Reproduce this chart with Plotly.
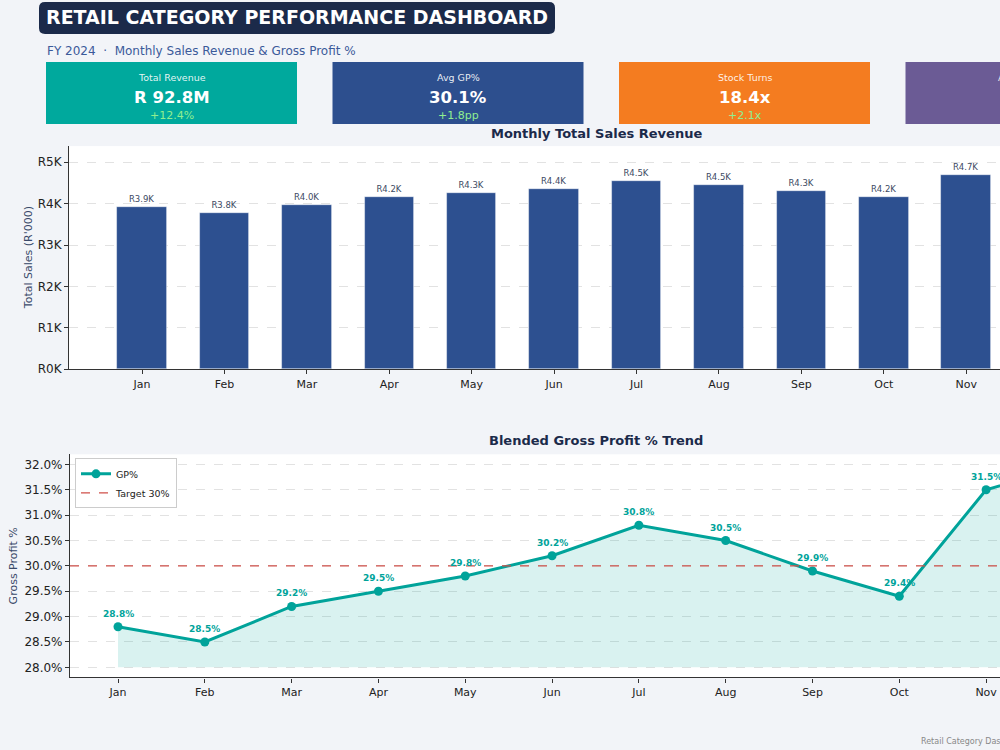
import plotly.graph_objects as go

# ---------------- data ----------------
months = ["Jan", "Feb", "Mar", "Apr", "May", "Jun", "Jul", "Aug", "Sep", "Oct", "Nov", "Dec"]
revenue_k = [3.91, 3.76, 3.96, 4.16, 4.26, 4.36, 4.54, 4.46, 4.31, 4.16, 4.70, 4.90]   # R'000 (K)
gp_pct = [28.8, 28.5, 29.2, 29.5, 29.8, 30.2, 30.8, 30.5, 29.9, 29.4, 31.5, 32.0]
target_gp = 30.0
gp_floor = 28.0

rev_ticks = [0, 1, 2, 3, 4, 5]
rev_ticktext = ["R0K", "R1K", "R2K", "R3K", "R4K", "R5K"]
gp_ticks = [28.0, 28.5, 29.0, 29.5, 30.0, 30.5, 31.0, 31.5, 32.0]
gp_ticktext = [f"{v:.1f}%" for v in gp_ticks]

kpi_labels = ["Total Revenue", "Avg GP%", "Stock Turns", "Avg Txn Value"]
kpi_values = ["R 92.8M", "30.1%", "18.4x", "R 412"]
kpi_deltas = ["+12.4%", "+1.8pp", "+2.1x", "+5.6%"]
kpi_colors = ["#00A99D", "#2D4F8E", "#F47C20", "#6B5B95"]

# ---------------- styling ----------------
FONT = "DejaVu Sans"
BG = "#F2F4F8"
NAVY = "#1B2A4A"
BAR = "#2D5090"
TEAL = "#00A39A"
W, H = 1000, 750
H_EFF = 742.5   # rendered paper height observed in the viewer


def px(x):
    return x / W


def py(y):
    return 1 - y / H_EFF


fig = go.Figure()

# ---- bar chart ----
fig.add_trace(go.Bar(
    x=list(range(len(months))), y=revenue_k, width=0.6,
    marker=dict(color=BAR, line=dict(color="rgba(255,255,255,0.55)", width=0.8)),
    texttemplate="R%{y:.1f}K", textposition="outside",
    textfont=dict(family=FONT, size=8.5, color="#3D4A63"),
    cliponaxis=False, showlegend=False, xaxis="x", yaxis="y",
))

# ---- GP% chart ----
fig.add_trace(go.Scatter(
    x=list(range(len(months))), y=[gp_floor] * len(months), mode="lines",
    line=dict(width=0, color="rgba(0,0,0,0)"), showlegend=False, hoverinfo="skip",
    xaxis="x2", yaxis="y2",
))
fig.add_trace(go.Scatter(
    x=list(range(len(months))), y=gp_pct, mode="lines", fill="tonexty",
    fillcolor="rgba(0,168,157,0.15)", line=dict(width=0, color="rgba(0,0,0,0)"),
    showlegend=False, hoverinfo="skip", xaxis="x2", yaxis="y2",
))
fig.add_trace(go.Scatter(
    x=list(range(len(months))), y=gp_pct, mode="lines+markers", name="GP%",
    line=dict(color=TEAL, width=3), marker=dict(color=TEAL, size=9),
    xaxis="x2", yaxis="y2",
))
fig.add_trace(go.Scatter(
    x=[None], y=[None], mode="lines", name="Target 30%",
    line=dict(color="#D0504A", width=1.2, dash="dash"),
    xaxis="x2", yaxis="y2",
))

annotations = []
for i, v in enumerate(gp_pct):
    annotations.append(dict(
        x=i, y=v, xref="x2", yref="y2", text=f"<b>{v:.1f}%</b>", showarrow=False,
        yshift=13, font=dict(family=FONT, size=9, color=TEAL),
    ))

axis_common = dict(
    showline=True, linecolor="#333333", linewidth=1.2, ticks="outside", ticklen=4,
    tickcolor="#333333", zeroline=False,
)

fig.update_layout(
    width=W, height=H, margin=dict(l=0, r=0, t=0, b=0),
    paper_bgcolor=BG, plot_bgcolor="white",
    font=dict(family=FONT),
    bargap=0,
    xaxis=dict(
        domain=[px(69), 1.0], range=[-0.886, 10.41],
        tickvals=list(range(len(months))), ticktext=months, showgrid=False,
        tickfont=dict(family=FONT, size=11, color="#222222"),
        anchor="y", **axis_common,
    ),
    yaxis=dict(
        domain=[py(369), py(146)], range=[0, 5.39],
        tickvals=rev_ticks, ticktext=rev_ticktext,
        showgrid=True, gridcolor="#E2E2E2", griddash="dash", gridwidth=0.8,
        tickfont=dict(family=FONT, size=12, color="#222222"),
        anchor="x", **axis_common,
    ),
    xaxis2=dict(
        domain=[px(70), 1.0], range=[-0.553, 10.16],
        tickvals=list(range(len(months))), ticktext=months, showgrid=False,
        tickfont=dict(family=FONT, size=11, color="#222222"),
        anchor="y2", **axis_common,
    ),
    yaxis2=dict(
        domain=[py(677), py(454)], range=[27.8, 32.2],
        tickvals=gp_ticks, ticktext=gp_ticktext,
        showgrid=True, gridcolor="#E2E2E2", griddash="dash", gridwidth=0.8,
        tickfont=dict(family=FONT, size=12, color="#222222"),
        anchor="x2", **axis_common,
    ),
    legend=dict(
        x=px(75), y=py(458), xanchor="left", yanchor="top", traceorder="normal",
        bgcolor="white", bordercolor="#CCCCCC", borderwidth=1,
        font=dict(family=FONT, size=9.5, color="#222222"),
        tracegroupgap=0, itemwidth=30,
    ),
)

shapes = []
# target line on the GP chart
shapes.append(dict(type="line", xref="x2 domain", yref="y2", x0=0, x1=1,
                   y0=target_gp, y1=target_gp,
                   line=dict(color="#D0504A", width=1.2, dash="dash"), layer="above"))
# header box with rounded corners
x0, x1, y0, y1, r = px(39), px(555), py(34), py(2), 0.006
rx, ry = r, r * W / H
shapes.append(dict(
    type="path", xref="paper", yref="paper", fillcolor=NAVY, line=dict(width=0),
    layer="below",
    path=(f"M {x0+rx:.5f},{y0:.5f} L {x1-rx:.5f},{y0:.5f} Q {x1:.5f},{y0:.5f} {x1:.5f},{y0+ry:.5f} "
          f"L {x1:.5f},{y1-ry:.5f} Q {x1:.5f},{y1:.5f} {x1-rx:.5f},{y1:.5f} L {x0+rx:.5f},{y1:.5f} "
          f"Q {x0:.5f},{y1:.5f} {x0:.5f},{y1-ry:.5f} L {x0:.5f},{y0+ry:.5f} Q {x0:.5f},{y0:.5f} {x0+rx:.5f},{y0:.5f} Z"),
))
annotations.append(dict(
    x=px(297), y=py(17), xref="paper", yref="paper", showarrow=False,
    text="<b>RETAIL CATEGORY PERFORMANCE DASHBOARD</b>",
    font=dict(family=FONT, size=19, color="white"), xanchor="center", yanchor="middle",
))
annotations.append(dict(
    x=px(45), y=py(51), xref="paper", yref="paper", showarrow=False,
    text="FY 2024  ·  Monthly Sales Revenue & Gross Profit %",
    font=dict(family=FONT, size=12, color="#3B5A9A"), xanchor="left", yanchor="middle",
))

# KPI cards
card_left = 46
card_w = 251
card_step = 286.5
for k in range(len(kpi_labels)):
    cl = card_left + k * card_step
    shapes.append(dict(
        type="rect", xref="paper", yref="paper",
        x0=px(cl), x1=px(cl + card_w), y0=py(124), y1=py(62),
        fillcolor=kpi_colors[k], line=dict(width=0), layer="below",
    ))
    cx = px(cl + card_w / 2)
    annotations.append(dict(x=cx, y=py(77), xref="paper", yref="paper", showarrow=False,
                            text=kpi_labels[k], xanchor="center", yanchor="middle",
                            font=dict(family=FONT, size=9.5, color="rgba(255,255,255,0.9)")))
    annotations.append(dict(x=cx, y=py(97), xref="paper", yref="paper", showarrow=False,
                            text=f"<b>{kpi_values[k]}</b>", xanchor="center", yanchor="middle",
                            font=dict(family=FONT, size=16.5, color="white")))
    annotations.append(dict(x=cx, y=py(115), xref="paper", yref="paper", showarrow=False,
                            text=kpi_deltas[k], xanchor="center", yanchor="middle",
                            font=dict(family=FONT, size=11, color="#90EE90")))

# chart titles and axis titles
annotations.append(dict(x=px(596), y=py(133), xref="paper", yref="paper", showarrow=False,
                        text="<b>Monthly Total Sales Revenue</b>", xanchor="center", yanchor="middle",
                        font=dict(family=FONT, size=13, color=NAVY)))
annotations.append(dict(x=px(596), y=py(440), xref="paper", yref="paper", showarrow=False,
                        text="<b>Blended Gross Profit % Trend</b>", xanchor="center", yanchor="middle",
                        font=dict(family=FONT, size=13, color=NAVY)))
annotations.append(dict(x=px(28), y=py(258), xref="paper", yref="paper", showarrow=False,
                        text="Total Sales (R'000)", textangle=-90, xanchor="center", yanchor="middle",
                        font=dict(family=FONT, size=11, color="#3A4A6A")))
annotations.append(dict(x=px(13), y=py(566), xref="paper", yref="paper", showarrow=False,
                        text="Gross Profit %", textangle=-90, xanchor="center", yanchor="middle",
                        font=dict(family=FONT, size=11, color="#3A4A6A")))
annotations.append(dict(x=px(919), y=py(741), xref="paper", yref="paper", showarrow=False,
                        text="Retail Category Dashboard", xanchor="left", yanchor="middle",
                        font=dict(family=FONT, size=8, color="#888888")))

fig.update_layout(shapes=shapes, annotations=annotations)

fig.write_html("out.html", config={"responsive": False})
